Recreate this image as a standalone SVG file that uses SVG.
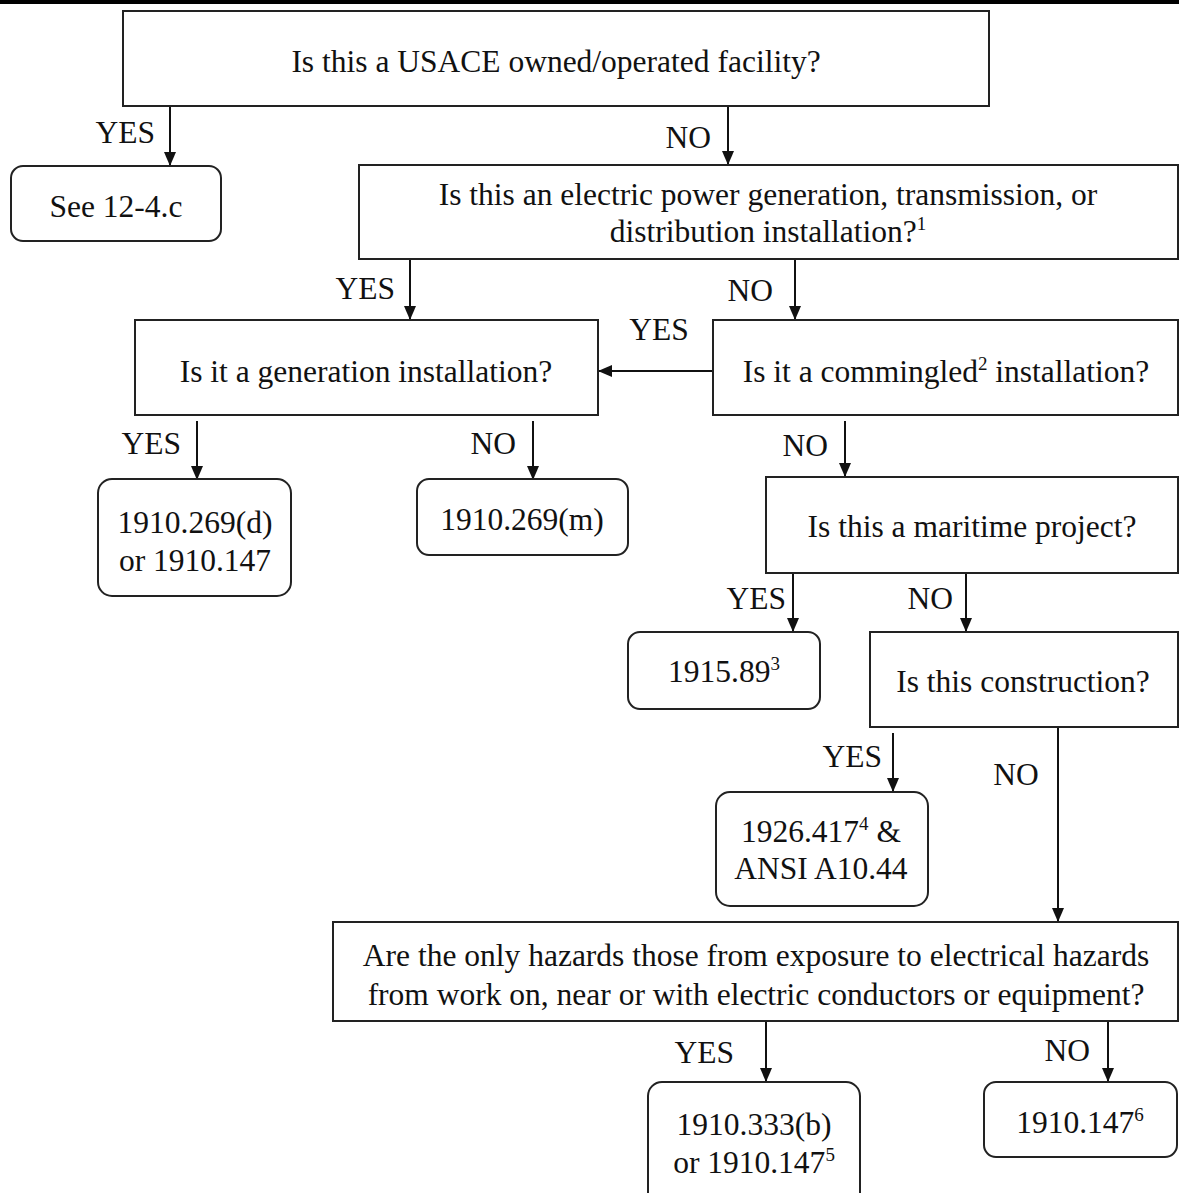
<svg xmlns="http://www.w3.org/2000/svg" width="1179" height="1193" viewBox="0 0 1179 1193">
<style>
.box{fill:#fff;stroke:#222;stroke-width:2}
.t{font-family:"Liberation Serif","Times New Roman",serif;font-size:31.5px;fill:#111;text-anchor:middle}
.l{font-family:"Liberation Serif","Times New Roman",serif;font-size:31.5px;fill:#111;text-anchor:end}
.c{stroke:#111;stroke-width:2;fill:none;marker-end:url(#ah)}
.sup{font-size:19px}
</style>
<defs>
<marker id="ah" markerWidth="14" markerHeight="14" refX="13" refY="7" orient="auto" markerUnits="userSpaceOnUse">
<path d="M0,1 L14,7 L0,13 Z" fill="#111"/>
</marker>
</defs>
<rect x="0" y="0" width="1179" height="1193" fill="#fff"/>
<rect x="0" y="0" width="1179" height="4" fill="#000"/>

<g id="connectors">
<line class="c" x1="170" y1="107" x2="170" y2="165"/>
<line class="c" x1="728" y1="107" x2="728" y2="164"/>
<line class="c" x1="410" y1="260" x2="410" y2="319"/>
<line class="c" x1="795" y1="260" x2="795" y2="319"/>
<line class="c" x1="712" y1="371" x2="599" y2="371"/>
<line class="c" x1="197" y1="421" x2="197" y2="479"/>
<line class="c" x1="533" y1="421" x2="533" y2="479"/>
<line class="c" x1="845" y1="421" x2="845" y2="476"/>
<line class="c" x1="793" y1="574" x2="793" y2="631"/>
<line class="c" x1="966" y1="574" x2="966" y2="631"/>
<line class="c" x1="893" y1="733" x2="893" y2="791"/>
<line class="c" x1="1058" y1="728" x2="1058" y2="921"/>
<line class="c" x1="766" y1="1022" x2="766" y2="1081"/>
<line class="c" x1="1108" y1="1022" x2="1108" y2="1081"/>
<text class="l" x="155" y="143">YES</text>
<text class="l" x="711" y="148">NO</text>
<text class="l" x="395" y="299">YES</text>
<text class="l" x="773" y="301">NO</text>
<text class="t" x="659" y="340">YES</text>
<text class="l" x="181" y="454">YES</text>
<text class="l" x="516" y="454">NO</text>
<text class="l" x="828" y="456">NO</text>
<text class="l" x="786" y="609">YES</text>
<text class="l" x="953" y="609">NO</text>
<text class="l" x="882" y="767">YES</text>
<text class="t" x="1016" y="785">NO</text>
<text class="l" x="734" y="1063">YES</text>
<text class="l" x="1090" y="1061">NO</text>
</g>

<g id="n-usace">
<rect class="box" x="123" y="11" width="866" height="95"/>
<text class="t" x="556" y="72">Is this a USACE owned/operated facility?</text>
</g>
<g id="n-see">
<rect class="box" x="11" y="166" width="210" height="75" rx="12"/>
<text class="t" x="116" y="217">See 12-4.c</text>
</g>
<g id="n-electric">
<rect class="box" x="359" y="165" width="819" height="94"/>
<text class="t" x="768" y="205">Is this an electric power generation, transmission, or</text>
<text class="t" x="768" y="242">distribution installation?<tspan class="sup" dy="-12">1</tspan></text>
</g>
<g id="n-generation">
<rect class="box" x="135" y="320" width="463" height="95"/>
<text class="t" x="366" y="382">Is it a generation installation?</text>
</g>
<g id="n-commingled">
<rect class="box" x="713" y="320" width="465" height="95"/>
<text class="t" x="946" y="382">Is it a commingled<tspan class="sup" dy="-12">2</tspan><tspan dy="12"> installation?</tspan></text>
</g>
<g id="n-269d">
<rect class="box" x="98" y="479" width="193" height="117" rx="14"/>
<text class="t" x="195" y="533">1910.269(d)</text>
<text class="t" x="195" y="571">or 1910.147</text>
</g>
<g id="n-269m">
<rect class="box" x="417" y="479" width="211" height="76" rx="12"/>
<text class="t" x="522" y="530">1910.269(m)</text>
</g>
<g id="n-maritime">
<rect class="box" x="766" y="477" width="412" height="96"/>
<text class="t" x="972" y="537">Is this a maritime project?</text>
</g>
<g id="n-1915">
<rect class="box" x="628" y="632" width="192" height="77" rx="12"/>
<text class="t" x="724" y="682">1915.89<tspan class="sup" dy="-12">3</tspan></text>
</g>
<g id="n-construction">
<rect class="box" x="870" y="632" width="308" height="95"/>
<text class="t" x="1023" y="692">Is this construction?</text>
</g>
<g id="n-1926">
<rect class="box" x="716" y="792" width="212" height="114" rx="14"/>
<text class="t" x="821" y="842">1926.417<tspan class="sup" dy="-12">4</tspan><tspan dy="12"> &amp;</tspan></text>
<text class="t" x="821" y="879">ANSI A10.44</text>
</g>
<g id="n-hazards">
<rect class="box" x="333" y="922" width="845" height="99"/>
<text class="t" x="756" y="966">Are the only hazards those from exposure to electrical hazards</text>
<text class="t" x="756" y="1005">from work on, near or with electric conductors or equipment?</text>
</g>
<g id="n-333b">
<rect class="box" x="648" y="1082" width="212" height="125" rx="14"/>
<text class="t" x="754" y="1135">1910.333(b)</text>
<text class="t" x="754" y="1173">or 1910.147<tspan class="sup" dy="-12">5</tspan></text>
</g>
<g id="n-147">
<rect class="box" x="984" y="1082" width="193" height="75" rx="12"/>
<text class="t" x="1080" y="1133">1910.147<tspan class="sup" dy="-12">6</tspan></text>
</g>
</svg>
